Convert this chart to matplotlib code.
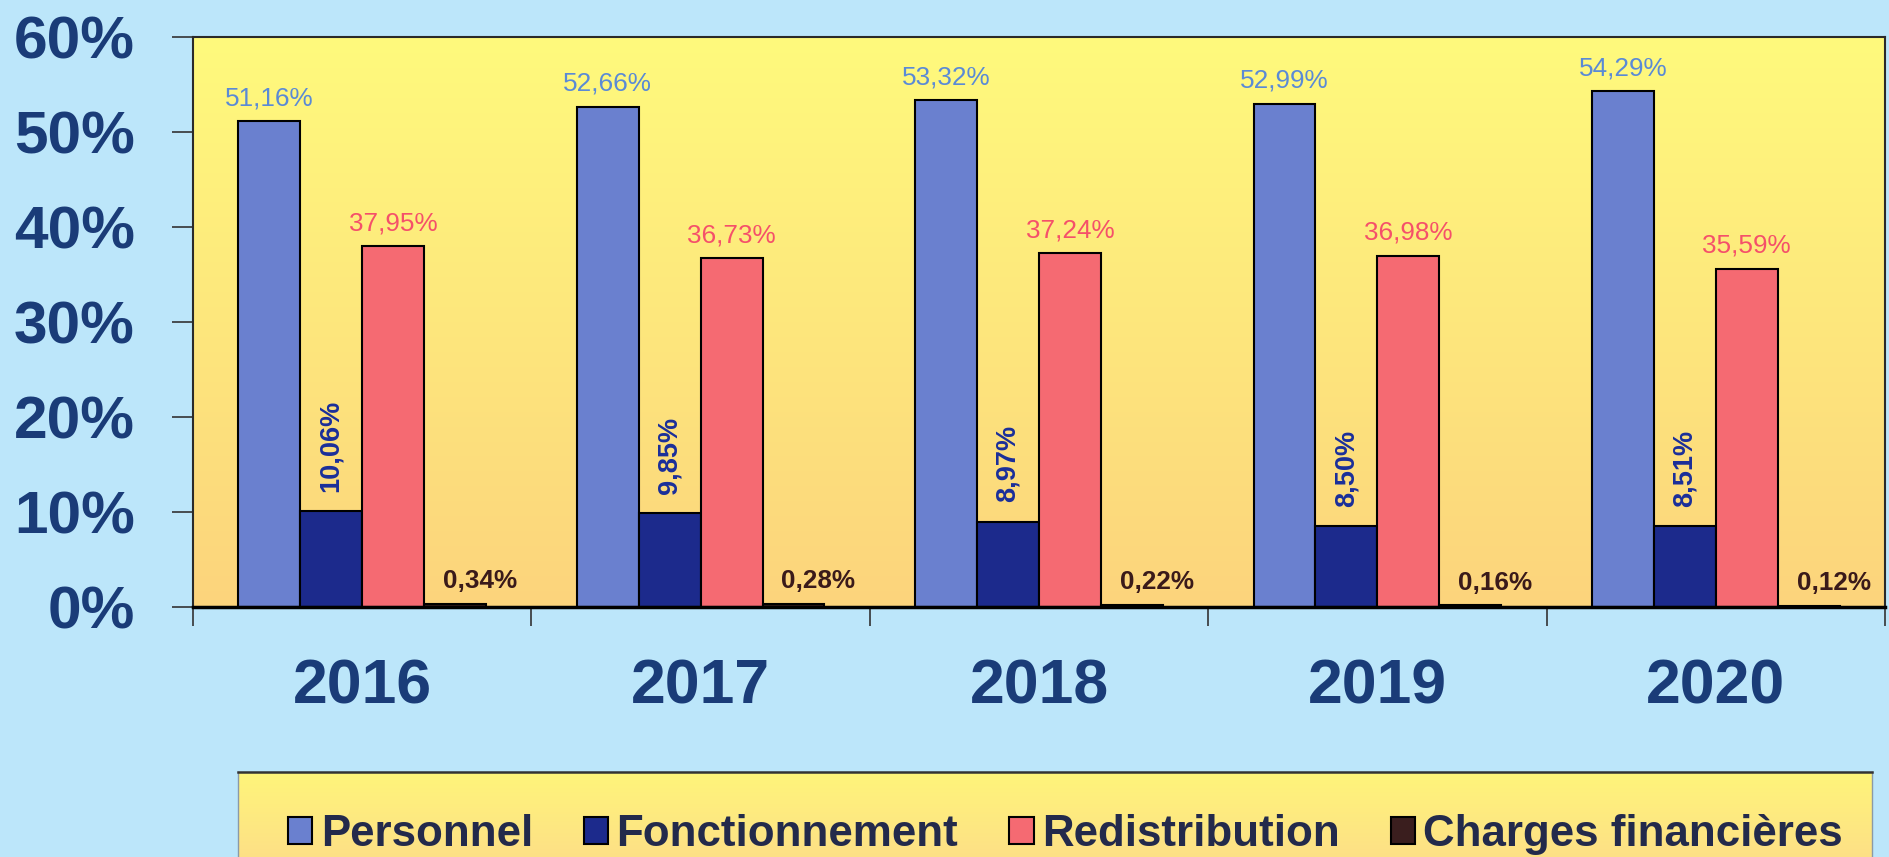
import matplotlib

matplotlib.use("Agg")
import matplotlib.pyplot as plt  # noqa: E402
import numpy as np  # noqa: E402
from matplotlib.colors import to_rgb  # noqa: E402

plt.rcParams["font.family"] = ["Liberation Sans", "DejaVu Sans"]

# --------------------------------------------------------------------------- #
# Data (share of expenses, %)
# --------------------------------------------------------------------------- #
years = ["2016", "2017", "2018", "2019", "2020"]
series = ["Personnel", "Fonctionnement", "Redistribution", "Charges financières"]
personnel = [51.16, 52.66, 53.32, 52.99, 54.29]
fonctionnement = [10.06, 9.85, 8.97, 8.50, 8.51]
redistribution = [37.95, 36.73, 37.24, 36.98, 35.59]
charges = [0.34, 0.28, 0.22, 0.16, 0.12]
yticks = [0, 10, 20, 30, 40, 50, 60]

# --------------------------------------------------------------------------- #
# Style
# --------------------------------------------------------------------------- #
BAR_COLORS = ["#6a80cf", "#1c2a8c", "#f56a72", "#3a1e1e"]
LABEL_COLORS = ["#5a8ad6", "#1a2e9a", "#f5506a", "#3a1a1a"]
AXIS_TEXT = "#1a3c78"
LEGEND_TEXT = "#232a4b"
BG = "#bce6fa"

W, H = 1890, 857


def fmt(v):
    return f"{v:.2f}".replace(".", ",") + "%"


def vgradient(top, bottom, n=256):
    t = np.linspace(0, 1, n)[:, None, None]
    return (1 - t) * np.array(to_rgb(top)) + t * np.array(to_rgb(bottom))


fig = plt.figure(figsize=(W / 100, H / 100), dpi=100)
fig.patch.set_facecolor(BG)

ax = fig.add_axes([193 / W, 250 / H, (1885 - 193) / W, 570 / H])
ax.imshow(vgradient("#fffa7d", "#fcd47c"), extent=(-0.5, 4.5, 0, 60),
          aspect="auto", zorder=0, interpolation="bilinear")

x = np.arange(len(years))
width = 0.183
values = [personnel, fonctionnement, redistribution, charges]
bars = []
for i, (vals, col) in enumerate(zip(values, BAR_COLORS)):
    b = ax.bar(x + (i - 1.5) * width, vals, width, color=col,
               edgecolor="black", linewidth=1.5, zorder=2, label=series[i])
    bars.append(b)

# value labels
for xi, v in zip(x, personnel):
    ax.annotate(fmt(v), (xi - 1.5 * width, v), xytext=(0, 11.5),
                textcoords="offset points", ha="center", va="baseline",
                fontsize=18.8, color=LABEL_COLORS[0])
for xi, v in zip(x, fonctionnement):
    ax.annotate(fmt(v), (xi - 0.5 * width, v), xytext=(0, 14),
                textcoords="offset points", ha="center", va="bottom",
                rotation=90, fontsize=19.5, fontweight="bold", color=LABEL_COLORS[1])
for xi, v in zip(x, redistribution):
    ax.annotate(fmt(v), (xi + 0.5 * width, v), xytext=(0, 11.5),
                textcoords="offset points", ha="center", va="baseline",
                fontsize=18.8, color=LABEL_COLORS[2])
for xi, v in zip(x, charges):
    ax.annotate(fmt(v), (xi + 1.5 * width, v), xytext=(18, 11.5),
                textcoords="offset points", ha="center", va="baseline",
                fontsize=18.8, fontweight="bold", color=LABEL_COLORS[3])

ax.set_xlim(-0.5, 4.5)
ax.set_ylim(0, 60)

# axes: group boundary ticks (major) + year labels (minor)
ax.set_xticks(np.arange(-0.5, len(years), 1.0))
ax.set_xticklabels([])
ax.set_xticks(x, minor=True)
ax.set_xticklabels(years, minor=True, fontsize=45, fontweight="bold",
                   color=AXIS_TEXT)
ax.tick_params(axis="x", which="major", direction="out", length=14,
               width=1.2, color="#333333")
ax.tick_params(axis="x", which="minor", length=0, pad=36)

ax.set_yticks(yticks)
ax.set_yticklabels([f"{v}%" for v in yticks], fontsize=43.5, fontweight="bold",
                   color=AXIS_TEXT)
ax.tick_params(axis="y", direction="out", length=15, width=1.2,
               color="#333333", pad=27)

for side in ("top", "right", "left"):
    ax.spines[side].set_color("#2a2a2a")
    ax.spines[side].set_linewidth(1.5)
ax.spines["bottom"].set_color("black")
ax.spines["bottom"].set_linewidth(2.5)
ax.spines["bottom"].set_zorder(3)

# legend panel (yellow box running off the bottom)
lax = fig.add_axes([238 / W, 0, (1872 - 238) / W, (857 - 772) / H])
lax.imshow(vgradient("#fff57a", "#fde086"), extent=(0, 1, 0, 1),
           aspect="auto", interpolation="bilinear")
lax.set_xlim(0, 1)
lax.set_ylim(0, 1)
lax.set_xticks([])
lax.set_yticks([])
lax.spines["top"].set_color("#333333")
lax.spines["top"].set_linewidth(1.8)
lax.spines["bottom"].set_visible(False)
for side in ("left", "right"):
    lax.spines[side].set_color("#8a9aa8")
    lax.spines[side].set_linewidth(1.0)

fs = 31.6
leg = fig.legend(bars, series, loc="lower left",
                 bbox_to_anchor=(288 / W, 2 / H), ncol=4, frameon=False,
                 prop={"size": fs, "weight": "bold"}, labelcolor=LEGEND_TEXT,
                 handlelength=24 / 43, handleheight=24 / 43,
                 handletextpad=8 / 43, columnspacing=50 / 43,
                 borderpad=0, borderaxespad=0)

fig.savefig("out.png", dpi=100, facecolor=fig.get_facecolor())
